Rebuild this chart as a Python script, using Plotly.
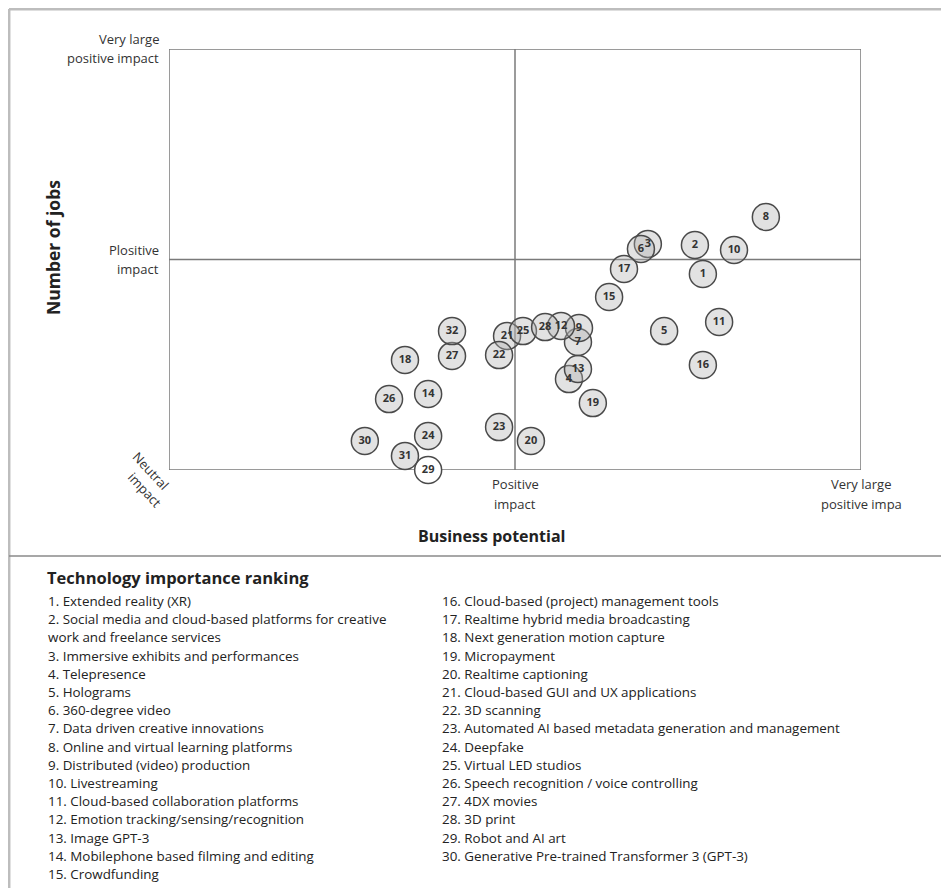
import plotly.graph_objects as go

# ---------------- data ----------------
BUBBLE_IDS = list(range(1, 33))
BUSINESS = [1.543, 1.520, 1.384, 1.156, 1.431, 1.364, 1.182, 1.725, 1.185, 1.633,
            1.590, 1.133, 1.182, 0.749, 1.272, 1.543, 1.315, 0.682, 1.225, 1.046,
            0.977, 0.954, 0.954, 0.749, 1.023, 0.636, 0.818, 1.087, 0.749, 0.566,
            0.682, 0.818]
JOBS = [0.931, 1.069, 1.074, 0.432, 0.660, 1.050, 0.608, 1.202, 0.675, 1.045,
        0.703, 0.684, 0.480, 0.361, 0.822, 0.499, 0.955, 0.523, 0.318, 0.138,
        0.637, 0.546, 0.204, 0.162, 0.660, 0.337, 0.542, 0.679, 0.000, 0.138,
        0.067, 0.660]

X_TICK_VALS = [1, 2]
X_TICK_TEXT = [["Positive", "impact"], ["Very large", "positive impa"]]
Y_TICK_VALS = [2, 1]
Y_TICK_TEXT = [["Very large", "positive impact"], ["Plositive", "impact"]]
ORIGIN_TEXT = ["Neutral", "impact"]

X_TITLE = "Business potential"
Y_TITLE = "Number of jobs"
LEGEND_TITLE = "Technology importance ranking"
TECH_NAMES = [
    "Extended reality (XR)",
    "Social media and cloud-based platforms for creative\nwork and freelance services",
    "Immersive exhibits and performances",
    "Telepresence",
    "Holograms",
    "360-degree video",
    "Data driven creative innovations",
    "Online and virtual learning platforms",
    "Distributed (video) production",
    "Livestreaming",
    "Cloud-based collaboration platforms",
    "Emotion tracking/sensing/recognition",
    "Image GPT-3",
    "Mobilephone based filming and editing",
    "Crowdfunding",
    "Cloud-based (project) management tools",
    "Realtime hybrid media broadcasting",
    "Next generation motion capture",
    "Micropayment",
    "Realtime captioning",
    "Cloud-based GUI and UX applications",
    "3D scanning",
    "Automated AI based metadata generation and management",
    "Deepfake",
    "Virtual LED studios",
    "Speech recognition / voice controlling",
    "4DX movies",
    "3D print",
    "Robot and AI art",
    "Generative Pre-trained Transformer 3 (GPT-3)",
]
WHITE_IDS = {29}
LEFT_COLUMN_COUNT = 15

# ---------------- layout geometry (page pixels) ----------------
PAGE_W, PAGE_H = 949, 888
OFF = 8                      # default body margin of the page
W, H = PAGE_W - OFF, PAGE_H - OFF
PL, PR, PT, PB = 169, 861, 49, 470
FONT = "Open Sans"
TXT = "#222222"


def px2x(px):
    return (px - PL) / (PR - PL)


def px2y(py):
    return (PB - py) / (PB - PT)


fig = go.Figure()

fill = ["rgba(255,255,255,1)" if i in WHITE_IDS else "rgba(175,175,175,0.36)"
        for i in BUBBLE_IDS]
fig.add_trace(go.Scatter(
    x=BUSINESS, y=JOBS, mode="markers+text",
    text=[str(i) for i in BUBBLE_IDS], textposition="middle center",
    textfont=dict(family=FONT, size=11, color="#333333", weight="bold"),
    marker=dict(size=27, color=fill, line=dict(color="#4a4a4a", width=1.5)),
    hoverinfo="skip", showlegend=False, cliponaxis=False,
))

shapes = []
line_style = dict(color="#7a7a7a", width=1.5)
shapes.append(dict(type="rect", xref="x", yref="y", x0=0, x1=2, y0=0, y1=2,
                   line=line_style, layer="below"))
shapes.append(dict(type="line", xref="x", yref="y", x0=1, x1=1, y0=0, y1=2,
                   line=line_style, layer="below"))
shapes.append(dict(type="line", xref="x", yref="y", x0=0, x1=2, y0=1, y1=1,
                   line=line_style, layer="below"))
frame = dict(color="#bdbdbd", width=2.5)
shapes.append(dict(type="line", xref="paper", yref="paper",
                   x0=px2x(9), x1=px2x(PAGE_W), y0=px2y(9.2), y1=px2y(9.2), line=frame))
shapes.append(dict(type="line", xref="paper", yref="paper",
                   x0=px2x(9.2), x1=px2x(9.2), y0=px2y(9), y1=px2y(PAGE_H), line=frame))
shapes.append(dict(type="line", xref="paper", yref="paper",
                   x0=px2x(9), x1=px2x(PAGE_W), y0=px2y(556), y1=px2y(556),
                   line=dict(color="#8a8a8a", width=1.5)))

ann = []
TICK_SIZE = 13
TICK_COLOR = "#333333"
for v, lines in zip(X_TICK_VALS, X_TICK_TEXT):
    for k, t in enumerate(lines):
        ann.append(dict(x=v, xref="x", y=px2y(484 + 20 * k), yref="paper",
                        text=t, showarrow=False, xanchor="center", yanchor="middle",
                        font=dict(family=FONT, size=TICK_SIZE, color=TICK_COLOR)))
for v, lines in zip(Y_TICK_VALS, Y_TICK_TEXT):
    for k, t in enumerate(lines):
        ann.append(dict(x=px2x(161), xref="paper", y=v, yref="y",
                        yshift=10 - 19 * k,
                        text=t, showarrow=False, xanchor="right", yanchor="middle",
                        font=dict(family=FONT, size=TICK_SIZE, color=TICK_COLOR)))
for t, (cx, cy) in zip(ORIGIN_TEXT, [(151, 471), (145, 490)]):
    ann.append(dict(x=px2x(cx), xref="paper", y=px2y(cy), yref="paper",
                    text=t, showarrow=False, textangle=47,
                    xanchor="center", yanchor="middle",
                    font=dict(family=FONT, size=TICK_SIZE, color=TICK_COLOR)))
ann.append(dict(x=px2x(491), xref="paper", y=px2y(536), yref="paper",
                text="<b>" + X_TITLE + "</b>", showarrow=False,
                xanchor="center", yanchor="middle",
                font=dict(family=FONT, size=16, color=TXT)))
ann.append(dict(x=px2x(53), xref="paper", y=px2y(248), yref="paper",
                text="<b>" + Y_TITLE + "</b>", showarrow=False, textangle=-90,
                xanchor="center", yanchor="middle",
                font=dict(family=FONT, size=17.5, color=TXT)))
ann.append(dict(x=px2x(45), xref="paper", y=px2y(577), yref="paper",
                text="<b>" + LEGEND_TITLE + "</b>", showarrow=False,
                xanchor="left", yanchor="middle",
                font=dict(family=FONT, size=16.5, color=TXT)))
ROW0, ROWH = 601, 18.2
for start, stop, xpx in [(0, LEFT_COLUMN_COUNT, 46),
                         (LEFT_COLUMN_COUNT, len(TECH_NAMES), 440)]:
    row = 0
    for idx in range(start, stop):
        parts = TECH_NAMES[idx].split("\n")
        for j, p in enumerate(parts):
            t = f"{idx + 1}. {p}" if j == 0 else p
            ann.append(dict(x=px2x(xpx), xref="paper", y=px2y(ROW0 + ROWH * row),
                            yref="paper", text=t, showarrow=False,
                            xanchor="left", yanchor="middle",
                            font=dict(family=FONT, size=13.4, color=TXT)))
            row += 1

fig.update_layout(
    width=W, height=H,
    margin=dict(l=PL - OFF, r=PAGE_W - PR, t=PT - OFF, b=PAGE_H - PB, pad=0),
    paper_bgcolor="white", plot_bgcolor="white",
    xaxis=dict(range=[0, 2], showgrid=False, zeroline=False, showticklabels=False,
               showline=False, ticks="", fixedrange=True),
    yaxis=dict(range=[0, 2], showgrid=False, zeroline=False, showticklabels=False,
               showline=False, ticks="", fixedrange=True),
    shapes=shapes, annotations=ann,
)

fig.write_html("out.html")
